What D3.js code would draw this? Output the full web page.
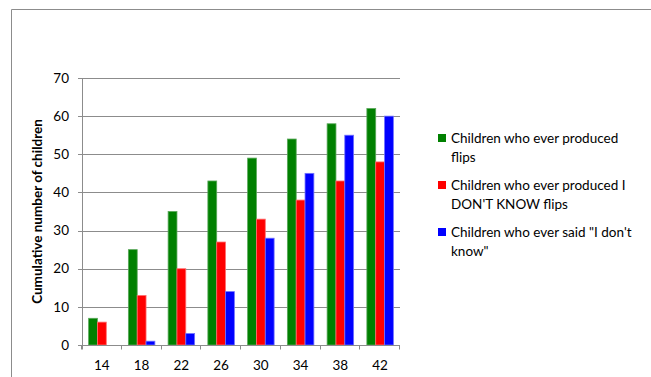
<!DOCTYPE html>
<html>
<head>
<meta charset="utf-8">
<script src="https://cdn.jsdelivr.net/npm/d3@7"></script>
<style>
  body { margin: 0; background: #fff; }
  text { font-family: Lato, "Open Sans", sans-serif; fill: #000; }
</style>
</head>
<body>
<div id="chart"></div>
<script>
// cumulative counts by age (months)
const ages = ["14", "18", "22", "26", "30", "34", "38", "42"];
const flips = [7, 25, 35, 43, 49, 54, 58, 62];
const dontKnowFlips = [6, 13, 20, 27, 33, 38, 43, 48];
const saidDontKnow = [0, 1, 3, 14, 28, 45, 55, 60];
const yTicks = [0, 10, 20, 30, 40, 50, 60, 70];

const series = [
  { name: ["Children who ever produced", "flips"], values: flips, color: "#008000", stroke: "#5aa85a" },
  { name: ["Children who ever produced I", "DON'T KNOW flips"], values: dontKnowFlips, color: "#ff0000", stroke: "#ff7070" },
  { name: ["Children who ever said \"I don't", "know\""], values: saidDontKnow, color: "#0000ff", stroke: "#7070ff" }
];

const width = 651, height = 377;
const margin = { top: 78, left: 82, right: 251, bottom: 32 };

const svg = d3.select("#chart")
  .append("svg")
  .attr("width", width)
  .attr("height", height);

// outer frame (only top and left are visible)
svg.append("path")
  .attr("d", "M11.5,377 V9.5 H651")
  .attr("fill", "none")
  .attr("stroke", "#8c8c8c");

const x0 = d3.scaleBand()
  .domain(ages)
  .range([margin.left, width - margin.right])
  .padding(0);

const bw = x0.bandwidth();
const x1 = d3.scaleBand()
  .domain(d3.range(series.length))
  .range([bw / 6, bw * 5 / 6])
  .padding(0);

const y = d3.scaleLinear()
  .domain([0, 70])
  .range([height - margin.bottom, margin.top]);

// gridlines
svg.append("g")
  .selectAll("line")
  .data(yTicks)
  .join("line")
  .attr("x1", margin.left - 4)
  .attr("x2", width - margin.right)
  .attr("y1", d => Math.round(y(d)) + 0.5)
  .attr("y2", d => Math.round(y(d)) + 0.5)
  .attr("stroke", "#8c8c8c");

// y tick labels
svg.append("g")
  .attr("font-size", 13.5)
  .attr("text-anchor", "end")
  .selectAll("text")
  .data(yTicks)
  .join("text")
  .attr("x", margin.left - 13)
  .attr("y", d => y(d))
  .attr("dy", "0.35em")
  .text(d => d);

// bars
svg.append("g")
  .selectAll("g")
  .data(series)
  .join("g")
  .attr("fill", d => d.color)
  .attr("stroke", d => d.stroke)
  .attr("stroke-width", 0.8)
  .each(function (s, si) {
    d3.select(this).selectAll("rect")
      .data(s.values.map((v, i) => ({ age: ages[i], v })))
      .join("rect")
      .attr("x", d => x0(d.age) + x1(si))
      .attr("width", x1.bandwidth())
      .attr("y", d => y(d.v))
      .attr("height", d => y(0) - y(d.v))
      .attr("display", d => d.v > 0 ? null : "none");
  });

// axes
const y0 = Math.round(y(0)) + 0.5;
svg.append("line")
  .attr("x1", margin.left + 0.5).attr("x2", margin.left + 0.5)
  .attr("y1", y(70)).attr("y2", y0 + 4)
  .attr("stroke", "#8c8c8c");
svg.append("line")
  .attr("x1", margin.left).attr("x2", width - margin.right)
  .attr("y1", y0).attr("y2", y0)
  .attr("stroke", "#8c8c8c");
svg.append("g")
  .selectAll("line")
  .data(ages.concat(["end"]))
  .join("line")
  .attr("x1", d => Math.round(d === "end" ? width - margin.right : x0(d)) - 0.5)
  .attr("x2", d => Math.round(d === "end" ? width - margin.right : x0(d)) - 0.5)
  .attr("y1", y0)
  .attr("y2", y0 + 4)
  .attr("stroke", "#8c8c8c");

// x tick labels
svg.append("g")
  .attr("font-size", 13.5)
  .attr("text-anchor", "middle")
  .selectAll("text")
  .data(ages)
  .join("text")
  .attr("x", d => x0(d) + bw / 2)
  .attr("y", 370)
  .text(d => d);

// y axis title
svg.append("text")
  .attr("transform", `translate(42,${(y(0) + y(70)) / 2}) rotate(-90)`)
  .attr("text-anchor", "middle")
  .attr("font-size", 13.5)
  .attr("font-weight", "bold")
  .text("Cumulative number of children");

// legend
const legend = svg.append("g")
  .selectAll("g")
  .data(series)
  .join("g")
  .attr("transform", (d, i) => `translate(438,${134 + i * 47})`);

legend.append("rect")
  .attr("width", 8)
  .attr("height", 8)
  .attr("fill", d => d.color);

legend.append("text")
  .attr("font-size", 13.5)
  .selectAll("tspan")
  .data(d => d.name)
  .join("tspan")
  .attr("x", 13)
  .attr("y", (d, i) => 9 + i * 19)
  .text(d => d);
</script>
</body>
</html>
